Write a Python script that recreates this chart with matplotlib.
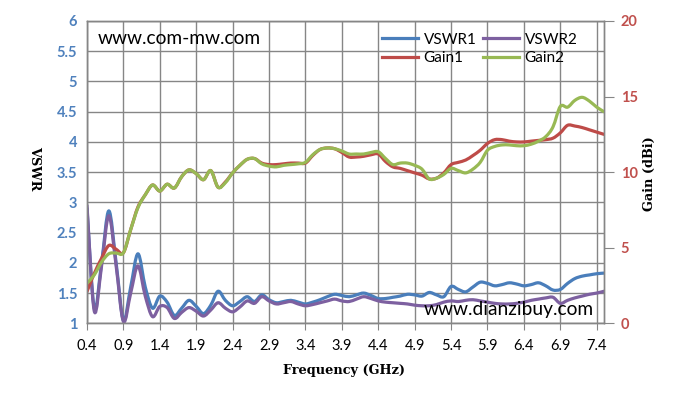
import numpy as np
import matplotlib
matplotlib.use('Agg')
import matplotlib.pyplot as plt
from matplotlib.path import Path
from matplotlib.patches import PathPatch
from matplotlib.lines import Line2D


# sweep 0.4 .. 7.5 GHz, 0.1 GHz step (Excel category axis)
freq = np.round(np.arange(0.4, 7.55, 0.1), 1)

vswr1 = [2.90, 1.25, 2.00, 2.86, 2.00, 1.05, 1.60, 2.15, 1.60, 1.25,
         1.45, 1.35, 1.13, 1.25, 1.38, 1.28, 1.16, 1.30, 1.53, 1.38,
         1.29, 1.36, 1.44, 1.36, 1.47, 1.39, 1.34, 1.36, 1.38, 1.35,
         1.32, 1.35, 1.39, 1.44, 1.48, 1.46, 1.44, 1.47, 1.50, 1.46,
         1.41, 1.41, 1.43, 1.45, 1.48, 1.47, 1.45, 1.51, 1.47, 1.44,
         1.61, 1.56, 1.52, 1.60, 1.68, 1.66, 1.62, 1.64, 1.67, 1.65,
         1.62, 1.64, 1.67, 1.62, 1.55, 1.56, 1.66, 1.74, 1.78, 1.80,
         1.82, 1.83]

vswr2 = [2.95, 1.20, 1.95, 2.78, 1.95, 1.03, 1.50, 1.95, 1.45, 1.11,
         1.28, 1.26, 1.08, 1.18, 1.26, 1.20, 1.12, 1.22, 1.34, 1.25,
         1.19, 1.27, 1.37, 1.33, 1.44, 1.37, 1.32, 1.34, 1.36, 1.32,
         1.29, 1.31, 1.34, 1.37, 1.40, 1.37, 1.36, 1.40, 1.44, 1.41,
         1.37, 1.35, 1.34, 1.33, 1.32, 1.30, 1.29, 1.29, 1.31, 1.35,
         1.37, 1.36, 1.38, 1.39, 1.37, 1.35, 1.33, 1.32, 1.32, 1.33,
         1.35, 1.38, 1.40, 1.42, 1.43, 1.33, 1.38, 1.42, 1.45, 1.48,
         1.50, 1.53]

gain1 = [2.10, 3.30, 4.30, 5.15, 4.90, 4.67, 6.20, 7.70, 8.50, 9.15,
         8.75, 9.20, 8.95, 9.70, 10.15, 9.90, 9.50, 10.10, 9.00, 9.35,
         9.95, 10.45, 10.85, 10.90, 10.60, 10.50, 10.50, 10.55, 10.60, 10.60,
         10.60, 11.10, 11.50, 11.60, 11.55, 11.30, 11.00, 11.00, 11.05, 11.15,
         11.20, 10.70, 10.35, 10.25, 10.10, 9.95, 9.80, 9.55, 9.60, 9.95,
         10.50, 10.65, 10.80, 11.10, 11.45, 11.90, 12.15, 12.15, 12.05, 12.00,
         12.00, 12.05, 12.10, 12.15, 12.25, 12.60, 13.10, 13.05, 12.95, 12.80,
         12.65, 12.50]

gain2 = [2.65, 3.20, 4.05, 4.60, 4.65, 4.67, 6.20, 7.65, 8.50, 9.15,
         8.75, 9.20, 8.95, 9.70, 10.15, 9.90, 9.50, 10.10, 9.00, 9.30,
         9.95, 10.45, 10.85, 10.90, 10.55, 10.40, 10.35, 10.45, 10.50, 10.55,
         10.65, 11.15, 11.50, 11.60, 11.55, 11.40, 11.20, 11.20, 11.20, 11.30,
         11.35, 10.90, 10.50, 10.60, 10.60, 10.45, 10.20, 9.55, 9.60, 9.85,
         10.25, 10.10, 9.95, 10.20, 10.65, 11.45, 11.70, 11.80, 11.80, 11.75,
         11.75, 11.85, 12.05, 12.35, 13.00, 14.35, 14.30, 14.75, 14.95, 14.70,
         14.30, 14.00]

xticks = [0.4, 0.9, 1.4, 1.9, 2.4, 2.9, 3.4, 3.9, 4.4, 4.9, 5.4, 5.9, 6.4, 6.9, 7.4]
vswr_ticks = [1, 1.5, 2, 2.5, 3, 3.5, 4, 4.5, 5, 5.5, 6]
gain_ticks = [0, 5, 10, 15, 20]

C_BLUE = '#4A7EBB'
C_PURPLE = '#7D60A0'
C_RED = '#BE4B48'
C_GREEN = '#98B954'
GRID = '#868686'
LW = 2.3


# smoothed line like Excel's (Catmull-Rom as cubic Bezier)
def smooth_path(x, y):
    p = np.column_stack([x, y]).astype(float)
    n = len(p)
    verts = [p[0]]
    codes = [Path.MOVETO]
    for i in range(n - 1):
        p0 = p[i - 1] if i > 0 else p[i]
        p3 = p[i + 2] if i + 2 < n else p[i + 1]
        c1 = p[i] + (p[i + 1] - p0) / 6.0
        c2 = p[i + 1] - (p3 - p[i]) / 6.0
        verts += [c1, c2, p[i + 1]]
        codes += [Path.CURVE4] * 3
    return Path(verts, codes)


def add_curve(ax, x, y, color):
    patch = PathPatch(smooth_path(x, y), facecolor='none', edgecolor=color,
                      lw=LW, capstyle='round', joinstyle='round')
    ax.add_patch(patch)


fig = plt.figure(figsize=(6.89, 4.04), dpi=100)
ax = fig.add_axes([87 / 689, 1 - 323.3 / 404, 517 / 689, 302.3 / 404])
ax2 = ax.twinx()

add_curve(ax, freq, vswr1, C_BLUE)
add_curve(ax, freq, vswr2, C_PURPLE)
add_curve(ax2, freq, gain1, C_RED)
add_curve(ax2, freq, gain2, C_GREEN)

ax.set_xlim(0.4, 7.5)
ax.set_ylim(1, 6)
ax2.set_ylim(0, 20)
ax.set_xticks(xticks)
ax.set_xticklabels([str(t) for t in xticks])
ax.set_yticks(vswr_ticks)
ax.set_yticklabels([('%g' % t) for t in vswr_ticks])
ax2.set_yticks(gain_ticks)

ax.grid(True, color=GRID, lw=1)
ax.set_axisbelow(True)
for a in (ax, ax2):
    for s in a.spines.values():
        s.set_color(GRID)
        s.set_linewidth(1)

ax.tick_params(axis='x', length=5, color=GRID, pad=6, labelsize=10.5,
               labelcolor='black')
ax.tick_params(axis='y', length=0, pad=7, labelsize=10.5, labelcolor='#4F81BD')
ax2.tick_params(axis='y', length=7, color=GRID, pad=5, labelsize=10.5,
                labelcolor='#C0504D')
for lab in ax.get_yticklabels():
    lab.set_fontfamily('Lato')
    lab.set_fontweight('bold')
for lab in ax2.get_yticklabels():
    lab.set_fontfamily('Lato')
    lab.set_fontweight('bold')
for lab in ax.get_xticklabels():
    lab.set_fontfamily('Lato')

serif = dict(family='DejaVu Serif', fontweight='bold', fontsize=9.3)
fig.text(35 / 689, 1 - 168 / 404, 'VSWR', rotation=270, ha='center',
         va='center', **serif)
fig.text(649 / 689, 1 - 174 / 404, 'Gain (dBi)', rotation=90, ha='center',
         va='center', **serif)
fig.text(344 / 689, 1 - 370.5 / 404, 'Frequency (GHz)', ha='center',
         va='center', **serif)

fig.text(98 / 689, 1 - 39 / 404, 'www.com-mw.com', family='Lato',
         fontsize=13.8, va='center', ha='left', color='black')
fig.text(424 / 689, 1 - 309 / 404, 'www.dianzibuy.com', family='Lato',
         fontsize=13.8, va='center', ha='left', color='black')

handles = [Line2D([], [], color=C_BLUE, lw=LW),
           Line2D([], [], color=C_RED, lw=LW),
           Line2D([], [], color=C_PURPLE, lw=LW),
           Line2D([], [], color=C_GREEN, lw=LW)]
labels = ['VSWR1', 'Gain1', 'VSWR2', 'Gain2']
fig.legend(handles, labels, ncol=2, loc='upper left',
           bbox_to_anchor=(371 / 689, 1 - 22 / 404), frameon=False,
           prop={'family': 'Lato', 'size': 11}, handlelength=2.4,
           handletextpad=0.35, columnspacing=0.4, labelspacing=0.3,
           borderpad=0.2)

fig.savefig('out.png', dpi=100)
plt.close()
